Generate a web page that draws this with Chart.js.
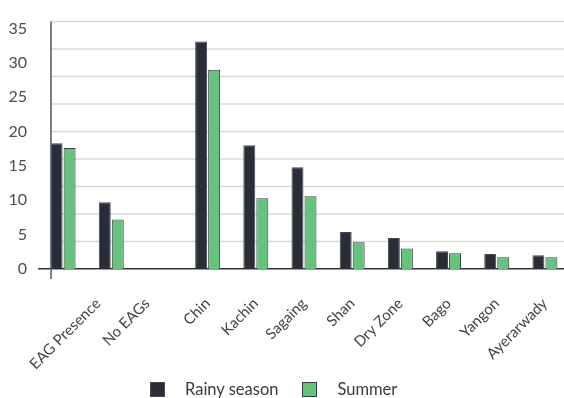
<!DOCTYPE html>
<html>
<head>
<meta charset="utf-8">
<script src="https://cdn.jsdelivr.net/npm/chart.js@4/dist/chart.umd.min.js"></script>
<style>
  html, body { margin: 0; padding: 0; background: #ffffff; overflow: hidden; width: 564px; height: 398px; }
  #wrap { position: absolute; left: 0; top: 0; width: 569px; height: 398px; }
  #legend { position: absolute; left: 150px; top: 382px; display: flex; align-items: center;
            font-family: Lato, "Open Sans", sans-serif; font-size: 16.5px; color: #3a3a3a; line-height: 15px; }
  #legend .box { width: 15px; height: 15px; box-sizing: border-box; margin-right: 20px; }
  #legend .item { display: flex; align-items: center; margin-right: 24px; }
</style>
</head>
<body>
<div id="wrap"><canvas id="c"></canvas></div>
<div id="legend"></div>
<script>
// ---- data ----
const categories = ['EAG Presence', 'No EAGs', '', 'Chin', 'Kachin', 'Sagaing', 'Shan', 'Dry Zone', 'Bago', 'Yangon', 'Ayerarwady'];
const rainySeason = [18.3, 9.7, null, 33.1, 18.0, 14.8, 5.4, 4.5, 2.6, 2.2, 2.0];
const summer = [17.6, 7.2, null, 29.0, 10.3, 10.6, 3.9, 3.0, 2.3, 1.7, 1.7];
const seriesNames = ['Rainy season', 'Summer'];
const yMin = 0;
const yMax = 36;
const yTickStep = 5;
const gridStep = 4;

// ---- styles ----
const colors = { rainy: '#2a2d38', rainyBorder: '#464852', summer: '#67c17f', summerBorder: '#33423a' };
const AXIS_INSET = 12;          // y-axis line drawn inside left edge of plot
const labelShift = [35, 36, 0, 0, 0, 0, 0, 0, 0, 0, 0];
const LABEL_Y = 301;

const decor = {
  id: 'decor',
  beforeDatasetsDraw(chart) {
    const { ctx, chartArea, scales: { y } } = chart;
    const x0 = chartArea.left + AXIS_INSET;
    ctx.save();
    ctx.strokeStyle = '#dadad6';
    ctx.lineWidth = 1.5;
    for (let v = yMin + gridStep; v <= y.max + 1e-9; v += gridStep) {
      const py = y.getPixelForValue(v);
      ctx.beginPath();
      ctx.moveTo(x0, py);
      ctx.lineTo(chartArea.right, py);
      ctx.stroke();
    }
    ctx.restore();
  },
  afterDatasetsDraw(chart) {
    const { ctx, chartArea, scales: { x } } = chart;
    const x0 = chartArea.left + AXIS_INSET;
    ctx.save();
    ctx.strokeStyle = '#55565c';
    ctx.lineWidth = 1.5;
    ctx.beginPath();
    ctx.moveTo(x0, chartArea.top);
    ctx.lineTo(x0, chartArea.bottom + 10);
    ctx.stroke();
    // category labels
    ctx.font = '15px Lato, "Open Sans", sans-serif';
    ctx.fillStyle = '#444444';
    ctx.textAlign = 'right';
    ctx.textBaseline = 'middle';
    categories.forEach((lab, i) => {
      if (!lab) return;
      const px = x.getPixelForValue(i) + labelShift[i];
      ctx.save();
      ctx.translate(px, LABEL_Y);
      ctx.rotate(-Math.PI / 4);
      ctx.fillText(lab, 0, 0);
      ctx.restore();
    });
    ctx.restore();
  }
};

const chart = new Chart(document.getElementById('c'), {
  type: 'bar',
  data: {
    labels: categories,
    datasets: [
      { label: seriesNames[0], data: rainySeason, backgroundColor: colors.rainy, borderColor: colors.rainyBorder, borderWidth: 1 },
      { label: seriesNames[1], data: summer, backgroundColor: colors.summer, borderColor: colors.summerBorder, borderWidth: 1 }
    ]
  },
  options: {
    responsive: true,
    maintainAspectRatio: false,
    animation: false,
    datasets: { bar: { categoryPercentage: 0.54, barPercentage: 0.92 } },
    layout: { padding: { top: 13, bottom: 129, left: 0, right: 0 } },
    plugins: { legend: { display: false }, tooltip: { enabled: false } },
    scales: {
      x: {
        grid: { display: false, drawTicks: false },
        border: { display: true, color: '#333338', width: 1.5 },
        ticks: { display: false }
      },
      y: {
        min: yMin,
        max: yMax,
        afterFit(s) { s.width = 39; },
        grid: { display: false, drawTicks: false },
        border: { display: false },
        ticks: {
          stepSize: yTickStep,
          includeBounds: false,
          padding: 12,
          color: '#4d4d4d',
          font: { family: 'Lato, "Open Sans", sans-serif', size: 16 }
        }
      }
    }
  },
  plugins: [decor]
});

// HTML legend built from the datasets
const legendEl = document.getElementById('legend');
chart.data.datasets.forEach(ds => {
  const item = document.createElement('div');
  item.className = 'item';
  const box = document.createElement('span');
  box.className = 'box';
  box.style.background = ds.backgroundColor;
  box.style.border = '1px solid ' + ds.borderColor;
  const txt = document.createElement('span');
  txt.textContent = ds.label;
  item.appendChild(box);
  item.appendChild(txt);
  legendEl.appendChild(item);
});
</script>
</body>
</html>
